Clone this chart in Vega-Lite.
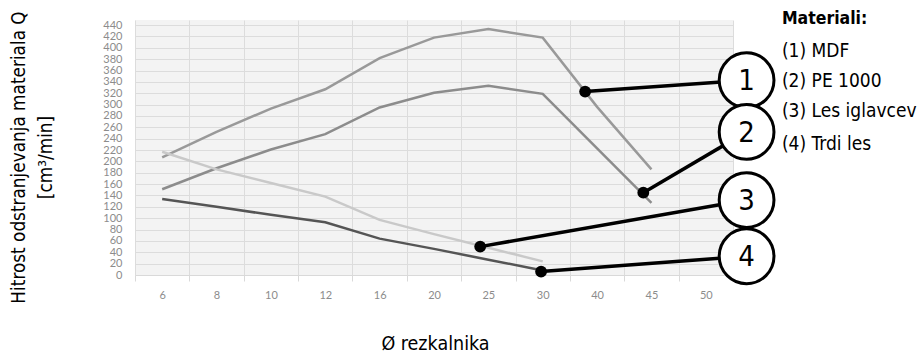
{
  "$schema": "https://vega.github.io/schema/vega-lite/v6.json",
  "width": 598,
  "height": 255,
  "autosize": "none",
  "padding": {"left": 135, "top": 20, "right": 189, "bottom": 80},
  "background": "white",
  "view": {"fill": "#f3f3f3", "stroke": null},
  "config": {
    "font": "Liberation Sans Narrow, DejaVu Sans Condensed, sans-serif"
  },
  "datasets": {
    "series": [
      {"d": "6", "m": "MDF", "v": 207},
      {"d": "8", "m": "MDF", "v": 252},
      {"d": "10", "m": "MDF", "v": 293},
      {"d": "12", "m": "MDF", "v": 327},
      {"d": "16", "m": "MDF", "v": 382},
      {"d": "20", "m": "MDF", "v": 418},
      {"d": "25", "m": "MDF", "v": 433},
      {"d": "30", "m": "MDF", "v": 418},
      {"d": "40", "m": "MDF", "v": 296},
      {"d": "45", "m": "MDF", "v": 186},
      {"d": "6", "m": "PE 1000", "v": 151},
      {"d": "8", "m": "PE 1000", "v": 188},
      {"d": "10", "m": "PE 1000", "v": 221},
      {"d": "12", "m": "PE 1000", "v": 248},
      {"d": "16", "m": "PE 1000", "v": 295},
      {"d": "20", "m": "PE 1000", "v": 321},
      {"d": "25", "m": "PE 1000", "v": 333},
      {"d": "30", "m": "PE 1000", "v": 319},
      {"d": "40", "m": "PE 1000", "v": 223},
      {"d": "45", "m": "PE 1000", "v": 127},
      {"d": "6", "m": "Les iglavcev", "v": 217},
      {"d": "8", "m": "Les iglavcev", "v": 186},
      {"d": "10", "m": "Les iglavcev", "v": 162},
      {"d": "12", "m": "Les iglavcev", "v": 138},
      {"d": "16", "m": "Les iglavcev", "v": 97},
      {"d": "20", "m": "Les iglavcev", "v": 72},
      {"d": "25", "m": "Les iglavcev", "v": 48},
      {"d": "30", "m": "Les iglavcev", "v": 24},
      {"d": "6", "m": "Trdi les", "v": 134},
      {"d": "8", "m": "Trdi les", "v": 120},
      {"d": "10", "m": "Trdi les", "v": 106},
      {"d": "12", "m": "Trdi les", "v": 93},
      {"d": "16", "m": "Trdi les", "v": 64},
      {"d": "20", "m": "Trdi les", "v": 46},
      {"d": "25", "m": "Trdi les", "v": 27},
      {"d": "30", "m": "Trdi les", "v": 8}
    ],
    "callouts": [
      {"n": "1", "px": 8.28, "py": 323, "cx": 11.25, "cy": 343},
      {"n": "2", "px": 9.35, "py": 145, "cx": 11.25, "cy": 252},
      {"n": "3", "px": 6.35, "py": 50, "cx": 11.25, "cy": 132},
      {"n": "4", "px": 7.47, "py": 6, "cx": 11.25, "cy": 33}
    ],
    "legendtitle": [
      {"t": "Materiali:", "lx": 11.9, "ly": 442}
    ],
    "legendtext": [
      {"t": "(1) MDF", "lx": 11.9, "ly": 384},
      {"t": "(2) PE 1000", "lx": 11.9, "ly": 331},
      {"t": "(3) Les iglavcev", "lx": 11.9, "ly": 278},
      {"t": "(4) Trdi les", "lx": 11.9, "ly": 220}
    ]
  },
  "layer": [
    {
      "data": {"name": "series"},
      "mark": {"type": "line", "strokeWidth": 2.5, "clip": false},
      "encoding": {
        "x": {
          "field": "d",
          "type": "ordinal",
          "sort": ["6", "8", "10", "12", "16", "20", "25", "30", "40", "45", "50"],
          "scale": {
            "type": "band",
            "domain": ["6", "8", "10", "12", "16", "20", "25", "30", "40", "45", "50"],
            "paddingInner": 0,
            "paddingOuter": 0
          },
          "axis": {
            "title": "Ø rezkalnika",
            "titleFont": "Liberation Sans Narrow, DejaVu Sans Condensed, sans-serif",
            "titleFontSize": 19.5,
            "titleFontWeight": "normal",
            "titleColor": "#000000",
            "titleX": 300,
            "titleY": 74,
            "titleAlign": "center",
            "titleBaseline": "alphabetic",
            "labelAngle": 0,
            "labelFont": "Lato",
            "labelFontSize": 11,
            "labelColor": "#8c8c8c",
            "labelPadding": 8,
            "grid": true,
            "tickBand": "extent",
            "gridColor": "#dcdcdc",
            "gridWidth": 1,
            "tickColor": "#d9d9d9",
            "tickSize": 6,
            "domain": true,
            "domainColor": "#d9d9d9"
          }
        },
        "y": {
          "field": "v",
          "type": "quantitative",
          "scale": {"domain": [0, 449], "nice": false, "zero": true},
          "axis": {
            "title": ["Hitrost odstranjevanja materiala Q", "[cm³/min]"],
            "titleFont": "Liberation Sans Narrow, DejaVu Sans Condensed, sans-serif",
            "titleFontSize": 18.8,
            "titleFontWeight": "normal",
            "titleColor": "#000000",
            "titleAngle": -90,
            "titleX": -111,
            "titleY": 137,
            "titleAlign": "center",
            "titleBaseline": "alphabetic",
            "titleLineHeight": 27,
            "values": [0, 20, 40, 60, 80, 100, 120, 140, 160, 180, 200, 220, 240, 260, 280, 300, 320, 340, 360, 380, 400, 420, 440],
            "labelOverlap": false,
            "labelFont": "Lato",
            "labelFontSize": 11,
            "labelColor": "#8c8c8c",
            "labelPadding": 13,
            "ticks": false,
            "domain": false,
            "grid": true,
            "gridColor": "#dcdcdc",
            "gridWidth": 1
          }
        },
        "color": {
          "field": "m",
          "type": "nominal",
          "scale": {
            "domain": ["MDF", "PE 1000", "Les iglavcev", "Trdi les"],
            "range": ["#999999", "#8c8c8c", "#c9c9c9", "#555555"]
          },
          "legend": null
        },
        "detail": {"field": "m"}
      }
    },
    {
      "layer": [
        {
          "data": {"name": "callouts"},
          "mark": {"type": "rule", "color": "#000000", "strokeWidth": 3.5, "clip": false},
          "encoding": {
            "x": {"field": "px", "type": "quantitative", "scale": {"domain": [0, 11], "nice": false, "zero": false}, "axis": null},
            "y": {"field": "py", "type": "quantitative", "scale": {"domain": [0, 449], "nice": false, "zero": true}, "axis": null},
            "x2": {"field": "cx"},
            "y2": {"field": "cy"}
          }
        },
        {
          "data": {"name": "callouts"},
          "mark": {"type": "point", "shape": "circle", "filled": true, "color": "#000000", "size": 140, "opacity": 1, "clip": false},
          "encoding": {
            "x": {"field": "px", "type": "quantitative", "axis": null},
            "y": {"field": "py", "type": "quantitative", "axis": null}
          }
        },
        {
          "data": {"name": "callouts"},
          "mark": {"type": "point", "shape": "circle", "filled": true, "fill": "#ffffff", "stroke": "#000000", "strokeWidth": 3, "size": 3000, "opacity": 1, "fillOpacity": 1, "clip": false},
          "encoding": {
            "x": {"field": "cx", "type": "quantitative", "axis": null},
            "y": {"field": "cy", "type": "quantitative", "axis": null}
          }
        },
        {
          "data": {"name": "callouts"},
          "mark": {"type": "text", "fontSize": 29, "color": "#000000", "align": "center", "baseline": "middle", "dy": 1, "clip": false},
          "encoding": {
            "x": {"field": "cx", "type": "quantitative", "axis": null},
            "y": {"field": "cy", "type": "quantitative", "axis": null},
            "text": {"field": "n"}
          }
        },
        {
          "data": {"name": "legendtitle"},
          "mark": {"type": "text", "fontSize": 17.5, "fontWeight": "bold", "color": "#000000", "align": "left", "baseline": "alphabetic", "clip": false},
          "encoding": {
            "x": {"field": "lx", "type": "quantitative", "axis": null},
            "y": {"field": "ly", "type": "quantitative", "axis": null},
            "text": {"field": "t"}
          }
        },
        {
          "data": {"name": "legendtext"},
          "mark": {"type": "text", "fontSize": 19, "color": "#000000", "align": "left", "baseline": "alphabetic", "clip": false},
          "encoding": {
            "x": {"field": "lx", "type": "quantitative", "axis": null},
            "y": {"field": "ly", "type": "quantitative", "axis": null},
            "text": {"field": "t"}
          }
        }
      ]
    }
  ],
  "resolve": {"scale": {"x": "independent", "y": "independent"}}
}
